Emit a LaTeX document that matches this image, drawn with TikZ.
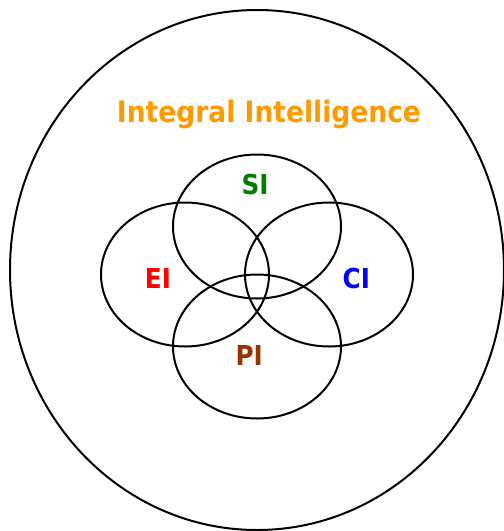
\documentclass[tikz,border=0pt]{standalone}
\usepackage{fontspec}
\usepackage{tikz}
\usetikzlibrary{shapes.geometric}
\newfontfamily\vennfont{DejaVu Sans Condensed Bold}
\definecolor{titleorange}{HTML}{FF9900}
\definecolor{sigreen}{HTML}{008000}
\definecolor{eired}{HTML}{FF0000}
\definecolor{ciblue}{HTML}{0000FF}
\definecolor{pibrown}{HTML}{993300}

\begin{document}
\begin{tikzpicture}[
  x=1pt, y=-1pt,
  ring/.style={
    draw=black,
    ellipse,
    line width=2pt,
    inner sep=0pt,
    minimum width=168pt,
    minimum height=144pt
  },
  outer/.style={
    draw=black,
    ellipse,
    line width=2pt,
    inner sep=0pt,
    minimum width=494pt,
    minimum height=520pt
  },
  vennlabel/.style={
    font=\vennfont\fontsize{27.4}{30}\selectfont,
    inner sep=0pt
  }
]
  \useasboundingbox (0,0) rectangle (504,531);

  % --- the whole: Integral Intelligence ---
  \node[outer] (integral) at (257,270) {};
  \node[vennlabel, anchor=base, text=titleorange,
        font=\vennfont\fontsize{29.5}{32}\selectfont] (title) at (269,122.7) {Integral Intelligence};

  % --- four overlapping parts ---
  \node[ring] (si) at (257,226.5) {};
  \node[ring] (ei) at (185,274.5) {};
  \node[ring] (ci) at (329,274.5) {};
  \node[ring] (pi) at (257,346.5) {};

  % labels
  \node[vennlabel, text=sigreen] (silabel) at (255,184.7) {SI};
  \node[vennlabel, text=eired] (eilabel) at (158,278.3) {EI};
  \node[vennlabel, text=ciblue] (cilabel) at (356.3,278.3) {CI};
  \node[vennlabel, text=pibrown] (pilabel) at (249.2,355.3) {PI};

\end{tikzpicture}
\end{document}
